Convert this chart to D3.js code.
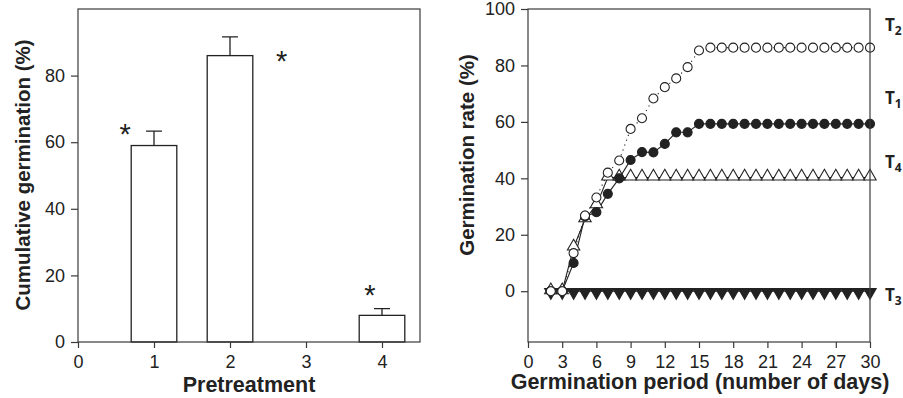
<!DOCTYPE html>
<html>
<head>
<meta charset="utf-8">
<script src="https://cdn.jsdelivr.net/npm/d3@7"></script>
<style>
  body { margin: 0; background: #fff; }
  svg { display: block; font-family: "Liberation Sans", Arial, sans-serif; }
</style>
</head>
<body>
<div id="chart"></div>
<script>
// ---- data: cumulative germination per pretreatment ----
var pretreatments = [1, 2, 3, 4];
var cumGermination = [59, 86, 0, 8];
var cumError = [4.3, 5.6, 0, 2];
var starX = [0.62, 2.68, 3.84];      // where the asterisks sit
var starY = [64, 86, 15.5];

// ---- data: germination rate over days ----
var days = [2, 3, 4, 5, 6, 7, 8, 9, 10, 11, 12, 13, 14, 15, 16, 17, 18, 19, 20, 21, 22, 23, 24, 25, 26, 27, 28, 29, 30];
var t1 = [0, 0, 10, 26.5, 28, 34.5, 40, 46.5, 49.3, 49.2, 52.2, 56.3, 56.3, 59.3, 59.3, 59.3, 59.3, 59.3, 59.3, 59.3, 59.3, 59.3, 59.3, 59.3, 59.3, 59.3, 59.3, 59.3, 59.3];
var t2 = [0, 0, 13.5, 26.8, 33.2, 42, 46.3, 57.5, 61.3, 68.3, 72.3, 75.4, 79.4, 85.3, 86.3, 86.3, 86.3, 86.3, 86.3, 86.3, 86.3, 86.3, 86.3, 86.3, 86.3, 86.3, 86.3, 86.3, 86.3];
var t3 = [0, 0, 0, 0, 0, 0, 0, 0, 0, 0, 0, 0, 0, 0, 0, 0, 0, 0, 0, 0, 0, 0, 0, 0, 0, 0, 0, 0, 0];
var t4 = [0, 0, 15.5, 25.5, 30.5, 40.3, 40.3, 40.3, 40.3, 40.3, 40.3, 40.3, 40.3, 40.3, 40.3, 40.3, 40.3, 40.3, 40.3, 40.3, 40.3, 40.3, 40.3, 40.3, 40.3, 40.3, 40.3, 40.3, 40.3];
var seriesLabels = ["T2", "T1", "T4", "T3"];
var labelY = [26, 99, 163, 296];

var width = 903, height = 398;
var ink = "#222", frame = "#3a3a3a";

var svg = d3.select("#chart").append("svg")
    .attr("width", width)
    .attr("height", height);

function styleAxis(g) {
  g.attr("font-family", "Liberation Sans, Arial, sans-serif").attr("font-size", 18);
  g.select(".domain").remove();
  g.selectAll(".tick line").attr("stroke", frame).attr("stroke-width", 1.2);
  g.selectAll(".tick text").attr("fill", ink).style("font-size", "18px");
}

// ================= left panel =================
var x1 = d3.scaleLinear().domain([0, 4.5]).range([78, 420]);
var y1 = d3.scaleLinear().domain([0, 100]).range([342, 9]);
var left = svg.append("g");

left.append("g")
  .attr("transform", "translate(0,342)")
  .call(d3.axisBottom(x1).tickValues([0, 1, 2, 3, 4]).tickFormat(d3.format("d")).tickSize(6).tickPadding(7))
  .call(styleAxis);
left.append("g")
  .attr("transform", "translate(78,0)")
  .call(d3.axisLeft(y1).tickValues([0, 20, 40, 60, 80]).tickFormat(d3.format("d")).tickSize(7).tickPadding(6))
  .call(styleAxis);

var barW = 0.6;
var bars = pretreatments.map(function(p, i) { return {p: p, v: cumGermination[i], e: cumError[i]}; })
  .filter(function(d) { return d.v > 0; });

left.selectAll("rect.bar")
  .data(bars)
  .enter().append("rect")
    .attr("class", "bar")
    .attr("x", function(d) { return x1(d.p - barW / 2); })
    .attr("y", function(d) { return y1(d.v); })
    .attr("width", x1(barW) - x1(0))
    .attr("height", function(d) { return y1(0) - y1(d.v); })
    .attr("fill", "#fff")
    .attr("stroke", ink)
    .attr("stroke-width", 1.3);

// error bars, only the upper half
left.selectAll("path.err")
  .data(bars)
  .enter().append("path")
    .attr("class", "err")
    .attr("d", function(d) {
      var cx = x1(d.p), top = y1(d.v + d.e), cw = 8;
      return "M" + cx + "," + y1(d.v) + "V" + top + "M" + (cx - cw) + "," + top + "H" + (cx + cw);
    })
    .attr("stroke", ink)
    .attr("stroke-width", 1.3)
    .attr("fill", "none");

left.selectAll("text.star")
  .data(starX)
  .enter().append("text")
    .attr("class", "star")
    .attr("x", function(d) { return x1(d); })
    .attr("y", function(d, i) { return y1(starY[i]) + 15; })
    .attr("text-anchor", "middle")
    .style("font-size", "29px")
    .attr("fill", ink)
    .text("*");

left.append("rect")
  .attr("x", 78).attr("y", 9)
  .attr("width", 342).attr("height", 333)
  .attr("fill", "none")
  .attr("stroke", frame)
  .attr("stroke-width", 1.2);

left.append("text")
  .attr("x", 249).attr("y", 392)
  .attr("text-anchor", "middle")
  .style("font-size", "21.5px").style("font-weight", "bold")
  .attr("fill", ink)
  .text("Pretreatment");

left.append("text")
  .attr("transform", "translate(30,175) rotate(-90)")
  .attr("text-anchor", "middle")
  .style("font-size", "20.5px").style("font-weight", "bold")
  .attr("fill", ink)
  .text("Cumulative germination (%)");

// ================= right panel =================
var x2 = d3.scaleLinear().domain([0, 30]).range([528, 870]);
var y2 = d3.scaleLinear().domain([-18, 100]).range([342, 9]);
var right = svg.append("g");

right.append("g")
  .attr("transform", "translate(0,342)")
  .call(d3.axisBottom(x2).tickValues(d3.range(0, 31, 3)).tickSize(6).tickPadding(7))
  .call(styleAxis);
right.append("g")
  .attr("transform", "translate(528,0)")
  .call(d3.axisLeft(y2).tickValues([0, 20, 40, 60, 80, 100]).tickSize(7).tickPadding(6))
  .call(styleAxis);

var line = d3.line()
  .x(function(d) { return x2(d[0]); })
  .y(function(d) { return y2(d[1]); });

function pts(vals) { return days.map(function(d, i) { return [d, vals[i]]; }); }

var series = [
  {vals: t3, dash: null, marker: "tri-down", fill: ink},
  {vals: t4, dash: null, marker: "tri-up", fill: "#fff"},
  {vals: t1, dash: null, marker: "circle", fill: ink},
  {vals: t2, dash: "1.2,4", marker: "circle", fill: "#fff"}
];

var tri = d3.symbol().type(d3.symbolTriangle).size(66)();

series.forEach(function(s) {
  right.append("path")
    .attr("d", line(pts(s.vals)))
    .attr("fill", "none")
    .attr("stroke", ink)
    .attr("stroke-width", 1.1)
    .attr("stroke-dasharray", s.dash);
});

series.forEach(function(s) {
  var g = right.append("g");
  var sel = g.selectAll("path.m")
    .data(pts(s.vals))
    .enter().append("path")
      .attr("class", "m")
      .attr("fill", s.fill)
      .attr("stroke", ink)
      .attr("stroke-width", 1.1);
  if (s.marker === "circle") {
    sel.attr("d", d3.symbol().type(d3.symbolCircle).size(64)())
      .attr("transform", function(d) { return "translate(" + x2(d[0]) + "," + y2(d[1]) + ")"; });
  } else if (s.marker === "tri-up") {
    sel.attr("d", tri)
      .attr("transform", function(d) { return "translate(" + x2(d[0]) + "," + (y2(d[1]) - 1) + ")"; });
  } else {
    sel.attr("d", tri)
      .attr("transform", function(d) { return "translate(" + x2(d[0]) + "," + (y2(d[1]) + 1) + ") rotate(180)"; });
  }
});

right.append("rect")
  .attr("x", 528).attr("y", 9)
  .attr("width", 342).attr("height", 333)
  .attr("fill", "none")
  .attr("stroke", frame)
  .attr("stroke-width", 1.2);

// series labels with subscripts
seriesLabels.forEach(function(lbl, i) {
  var t = right.append("text")
    .attr("x", 885).attr("y", labelY[i] + 5)
    .style("font-family", "'Open Sans', sans-serif")
    .style("font-size", "17px").style("font-weight", "bold")
    .attr("fill", ink);
  t.append("tspan").text(lbl[0]);
  t.append("tspan").attr("dy", 4).style("font-size", "12px").text(lbl.slice(1));
});

right.append("text")
  .attr("x", 700).attr("y", 389)
  .attr("text-anchor", "middle")
  .style("font-size", "21.5px").style("font-weight", "bold")
  .attr("fill", ink)
  .text("Germination period (number of days)");

right.append("text")
  .attr("transform", "translate(474,155) rotate(-90)")
  .attr("text-anchor", "middle")
  .style("font-size", "20.5px").style("font-weight", "bold")
  .attr("fill", ink)
  .text("Germination rate (%)");
</script>
</body>
</html>
